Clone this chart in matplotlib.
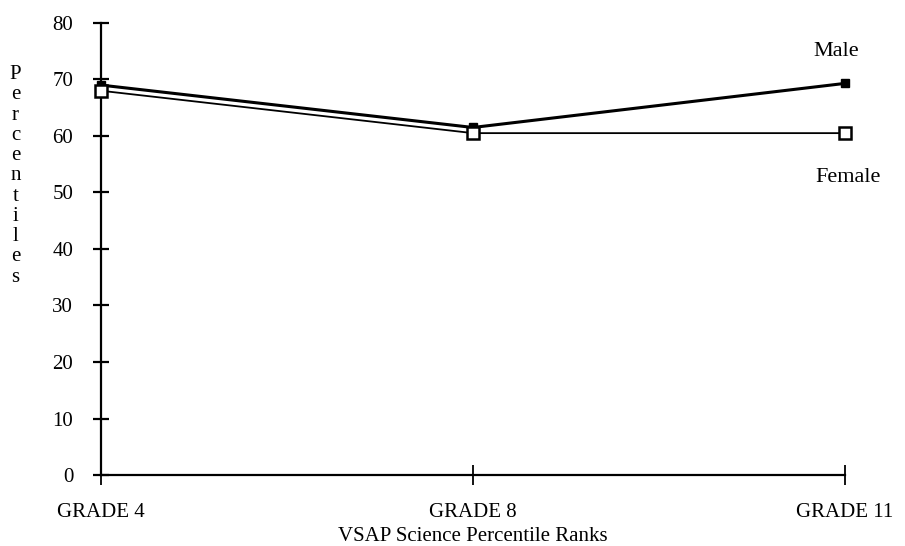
import matplotlib
matplotlib.use("Agg")
import matplotlib.pyplot as plt

grades = ["GRADE 4", "GRADE 8", "GRADE 11"]
male = [69, 61.5, 69.3]
female = [68, 60.5, 60.5]
yticks = [0, 10, 20, 30, 40, 50, 60, 70, 80]

plt.rcParams['font.family'] = ['Liberation Serif', 'DejaVu Serif']

fig = plt.figure(figsize=(9.05, 5.46), dpi=100)
ax = fig.add_axes([0.1116, 0.130, 0.822, 0.828])

x = list(range(len(grades)))
ax.plot(x, male, color='black', lw=2.2, marker='s', ms=5.5, mfc='black', mec='black',
        zorder=3, clip_on=False)
ax.plot(x, female, color='black', lw=1.3, marker='s', ms=8.5, mfc='white', mec='black',
        mew=1.8, zorder=4, clip_on=False)

ax.set_xlim(0, 2)
ax.set_ylim(0, 80)
ax.set_xticks(x)
ax.set_xticklabels(grades, fontsize=15)
ax.set_yticks(yticks)
ax.set_yticklabels([str(v) for v in yticks], fontsize=15)

for s in ['top', 'right']:
    ax.spines[s].set_visible(False)
for s in ['left', 'bottom']:
    ax.spines[s].set_linewidth(1.6)

ax.tick_params(axis='y', direction='inout', length=12, width=1.6, pad=14)
ax.tick_params(axis='x', direction='inout', length=14, width=1.3, pad=13)

ax.set_xlabel("VSAP Science Percentile Ranks", fontsize=15, labelpad=4)

ax.text(0.957, 74.9, "Male", fontsize=16, ha='left', va='center',
        transform=ax.get_yaxis_transform())
ax.text(0.960, 52.7, "Female", fontsize=16, ha='left', va='center',
        transform=ax.get_yaxis_transform())

fig.text(0.017, 0.678, "\n".join("Percentiles"), fontsize=15, ha='center', va='center',
         linespacing=1.09)

fig.savefig("out.png", dpi=100)
